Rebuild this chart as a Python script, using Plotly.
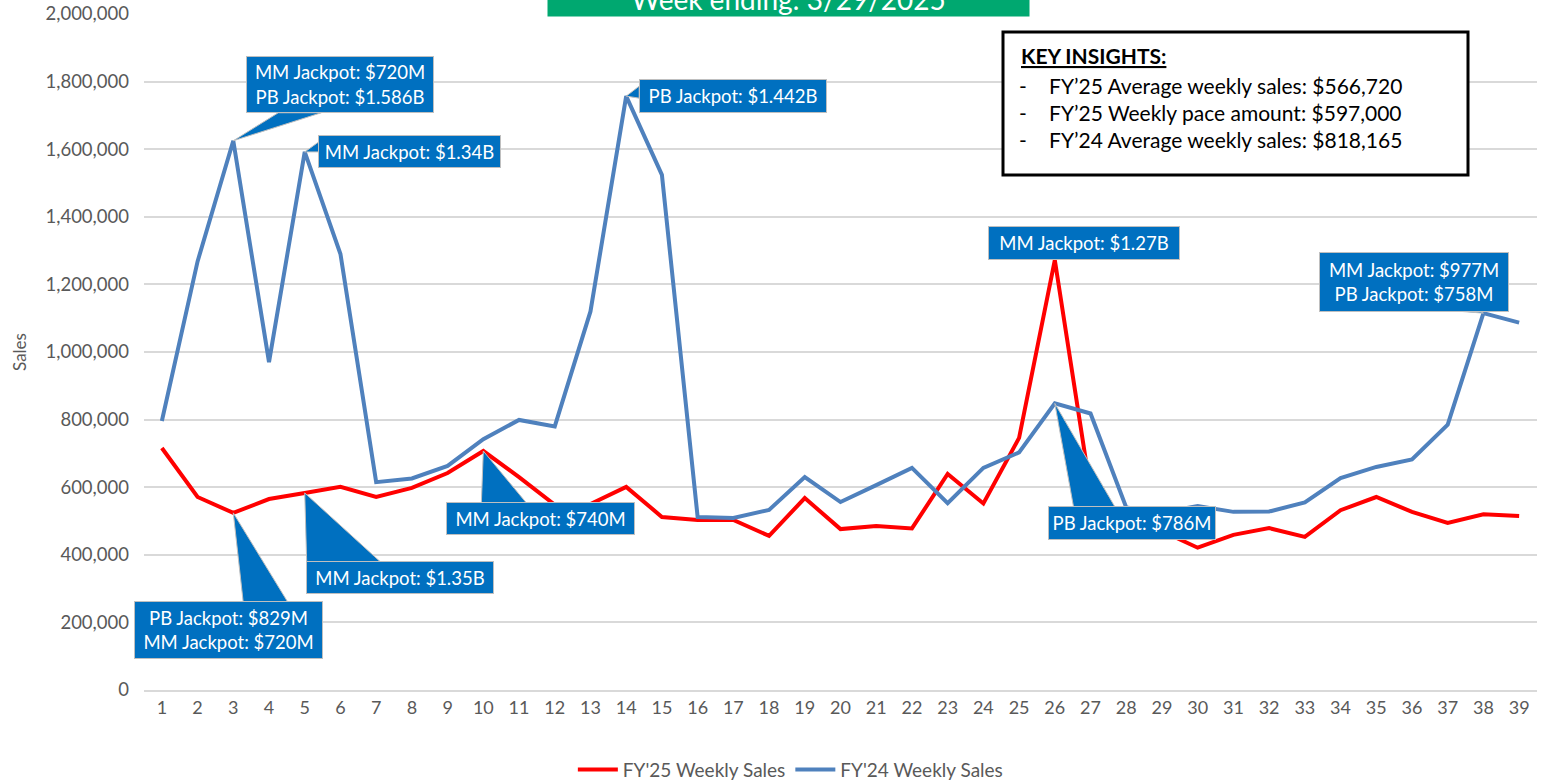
import plotly.graph_objects as go

# Weekly lottery sales, FY'25 vs FY'24
weeks = list(range(1, 40))

fy25_sales = [
    716000, 571000, 524000, 565000, 583000, 601000, 571000, 598000, 642000, 707000,
    630000, 548000, 550000, 601000, 512000, 503000, 503000, 456000, 568000, 476000,
    485000, 478000, 639000, 552000, 746000, 1272000, 590000, 510000, 470000, 421000,
    459000, 479000, 453000, 532000, 571000, 527000, 494000, 520000, 515000,
]

fy24_sales = [
    796000, 1268000, 1625000, 970000, 1592000, 1290000, 615000, 626000, 663000, 742000,
    799000, 780000, 1120000, 1757000, 1524000, 512000, 509000, 533000, 630000, 556000,
    606000, 657000, 553000, 657000, 703000, 848000, 818000, 540000, 525000, 544000,
    527000, 528000, 555000, 627000, 660000, 682000, 785000, 1115000, 1087000,
]

series_names = ["FY'25 Weekly Sales", "FY'24 Weekly Sales"]
title_text = "Week ending: 3/29/2025"
insight_title = "KEY INSIGHTS:"
insight_lines = [
    "FY\u201925 Average weekly sales: $566,720",
    "FY\u201925 Weekly pace amount: $597,000",
    "FY\u201924 Average weekly sales: $818,165",
]

# jackpot callouts: (series, week, text)
callout_series = ["fy24", "fy24", "fy24", "fy25", "fy24", "fy25", "fy25", "fy25", "fy24"]
callout_weeks = [3, 5, 14, 26, 38, 3, 5, 10, 26]
callout_texts = [
    "MM Jackpot: $720M<br>PB Jackpot: $1.586B",
    "MM Jackpot: $1.34B",
    "PB Jackpot: $1.442B",
    "MM Jackpot: $1.27B",
    "MM Jackpot: $977M<br>PB Jackpot: $758M",
    "PB Jackpot: $829M<br>MM Jackpot: $720M",
    "MM Jackpot: $1.35B",
    "MM Jackpot: $740M",
    "PB Jackpot: $786M",
]

# layout of each callout box relative to its point (pixels, y down)
callout_offsets = [(107, -56), (105, 0), (107, 0), (29, -17), (-69, -31),
                   (-5, 117), (95, 85), (57, 67), (77, 120)]
callout_sizes = [(186, 55), (181, 31), (186, 32), (190, 32), (188, 58),
                 (187, 56), (186, 31), (187, 31), (166, 32)]
wedge_bases = [((45, -28), (88, -28)), ((14, -10), (14, 0)), ((13, -10), (13, 2)),
               None, ((-39, -3), (-6, -3)), ((10, 90), (55, 90)),
               ((2, 71), (78, 71)), ((-2, 53), (44, 53)), ((19, 105), (61, 105))]

RED = "#FF0000"
BLUE = "#4F81BD"
CALLOUT = "#0070C0"
GREEN = "#00A870"
GREY = "#595959"
FONT = "Lato"

W, H = 1545, 780
L, R, T, B = 144, 8, 14, 90
PW, PH = W - L - R, H - T - B


def px_to_paper(px, py):
    return (px - L) / PW, (H - B - py) / PH


fig = go.Figure()
fig.add_trace(go.Scatter(x=weeks, y=fy25_sales, mode="lines", name=series_names[0],
                         line=dict(color=RED, width=4)))
fig.add_trace(go.Scatter(x=weeks, y=fy24_sales, mode="lines", name=series_names[1],
                         line=dict(color=BLUE, width=4)))

shapes = []
annotations = []
values = {"fy25": fy25_sales, "fy24": fy24_sales}

for s, wk, txt, off, size, wedge in zip(callout_series, callout_weeks, callout_texts,
                                         callout_offsets, callout_sizes, wedge_bases):
    yv = values[s][weeks.index(wk)]
    if wedge is not None:
        (bx1, by1), (bx2, by2) = wedge
        path = f"M 0 0 L {bx1} {-by1} L {bx2} {-by2} Z"
        shapes.append(dict(type="path", xref="x", yref="y", xsizemode="pixel",
                           ysizemode="pixel", xanchor=wk, yanchor=yv, path=path,
                           fillcolor=CALLOUT, line=dict(color="#BFBFBF", width=1),
                           layer="above"))
    annotations.append(dict(x=wk, y=yv, xref="x", yref="y", text=txt, showarrow=True,
                            ax=off[0], ay=off[1], axref="pixel", ayref="pixel",
                            arrowcolor="rgba(0,0,0,0)", arrowwidth=0.1, arrowhead=0,
                            width=size[0], height=size[1], bgcolor=CALLOUT,
                            bordercolor="#BFBFBF", borderwidth=1, borderpad=0,
                            font=dict(family=FONT, size=18.5, color="white")))

# green title banner, cut at top of page
tx, ty = px_to_paper(788, 17)
annotations.append(dict(x=tx, y=ty, xref="paper", yref="paper", xanchor="center",
                        yanchor="bottom", text=title_text, showarrow=False,
                        width=481, height=34, bgcolor=GREEN, borderpad=0,
                        font=dict(family=FONT, size=28, color="white")))

# key insights box
bx0, by0 = px_to_paper(1003, 175)
bx1, by1 = px_to_paper(1468, 32)
shapes.append(dict(type="rect", xref="paper", yref="paper", x0=bx0, y0=by0, x1=bx1, y1=by1,
                   fillcolor="white", line=dict(color="black", width=3), layer="above"))
hx, hy = px_to_paper(1019, 56)
annotations.append(dict(x=hx, y=hy, xref="paper", yref="paper", xanchor="left",
                        yanchor="middle", text=f"<b><u>{insight_title}</u></b>",
                        showarrow=False, font=dict(family=FONT, size=21, color="black")))
for i, line in enumerate(insight_lines):
    py = 85 + i * 27.5
    dx, dy = px_to_paper(1017, py)
    annotations.append(dict(x=dx, y=dy, xref="paper", yref="paper", xanchor="left",
                            yanchor="middle", text="-", showarrow=False,
                            font=dict(family=FONT, size=21, color="black")))
    lx, ly = px_to_paper(1047, py)
    annotations.append(dict(x=lx, y=ly, xref="paper", yref="paper", xanchor="left",
                            yanchor="middle", text=line, showarrow=False,
                            font=dict(family=FONT, size=21, color="black")))

fig.update_layout(
    width=W, height=H,
    margin=dict(l=L, r=R, t=T, b=B, autoexpand=False),
    plot_bgcolor="white", paper_bgcolor="white",
    font=dict(family=FONT, size=18, color=GREY),
    xaxis=dict(range=[0.5, 39.5], tickmode="array", tickvals=weeks, showgrid=False,
               showline=True, linecolor="#D9D9D9", linewidth=2, ticks="",
               tickfont=dict(size=18, color=GREY), zeroline=False, automargin=False),
    yaxis=dict(range=[0, 2000000], dtick=200000, tickformat=",", showgrid=True,
               gridcolor="#D9D9D9", gridwidth=2, zeroline=False, showline=False,
               tickfont=dict(size=18.5, color=GREY), ticklabelstandoff=14,
               automargin=False,
               title=dict(text="Sales", font=dict(size=17, color=GREY), standoff=14)),
    legend=dict(orientation="h", x=0.464, y=-0.118, xanchor="center", yanchor="middle",
                font=dict(size=19, color=GREY), itemwidth=40),
    shapes=shapes,
    annotations=annotations,
)

# drop the default page margin so the figure sits at the window's top-left corner
fig.write_html("out.html", config={"displayModeBar": False},
               post_script="document.body.style.margin='0';")
